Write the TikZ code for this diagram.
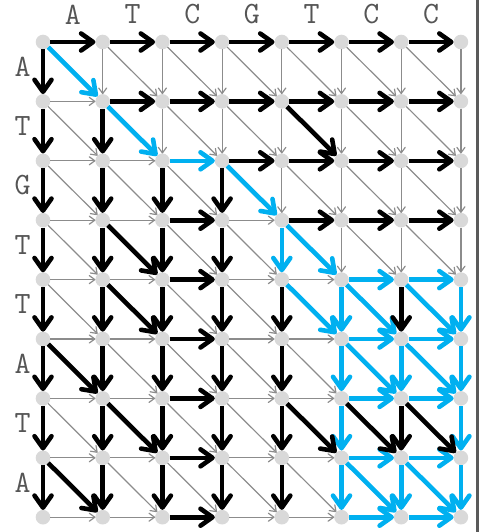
\documentclass[tikz,border=0pt]{standalone}
\usepackage{fontspec}
\usetikzlibrary{arrows.meta}
\definecolor{nodegray}{HTML}{D9D9D9}
\definecolor{edgegray}{HTML}{8C8C8C}
\definecolor{pathblue}{HTML}{00B0F0}
\definecolor{lettergray}{HTML}{555555}
\definecolor{framegray}{HTML}{5A5A5A}
\tikzset{
  gridnode/.style={circle, fill=nodegray, minimum size=14.6pt, inner sep=0pt, outer sep=0pt},
  thinedge/.style={draw=edgegray, line width=1.2pt, -{Straight Barb[round,length=5.5pt,width=8pt]}},
  blackedge/.style={draw=black, line width=4.6pt, -{Straight Barb[round,length=12pt,width=17pt]}},
  blueedge/.style={draw=pathblue, line width=4.6pt, -{Straight Barb[round,length=12pt,width=17pt]}},
  seqlabel/.style={font=\ttfamily\fontsize{31}{31}\selectfont, text=lettergray, inner sep=0pt},
}
\newcommand\markedges[2]{\foreach \e in {#2}{\expandafter\xdef\csname EdgeStyle\e\endcsname{#1}}}
\markedges{blackedge}{H-0-0,H-0-1,H-0-2,H-0-3,H-0-4,H-0-5,H-0-6,
  H-1-1,H-1-2,H-1-3,H-1-4,H-1-5,H-1-6,
  H-2-3,H-2-4,H-2-5,H-2-6,
  H-3-2,H-3-4,H-3-5,H-3-6,
  H-4-2,H-5-2,H-6-2,H-7-2,H-8-2,
  V-0-0,V-1-0,V-2-0,V-3-0,V-4-0,V-5-0,V-6-0,V-7-0,
  V-1-1,V-2-1,V-3-1,V-4-1,V-5-1,V-6-1,V-7-1,
  V-2-2,V-3-2,V-4-2,V-5-2,V-6-2,V-7-2,
  V-2-3,V-3-3,V-4-3,V-5-3,V-6-3,V-7-3,
  V-4-4,V-5-4,V-6-4,V-7-4,
  V-4-6,V-6-6,
  D-1-4,D-3-1,D-4-1,D-5-0,D-6-1,D-7-0,D-6-4,D-6-5,D-6-6}
\markedges{blueedge}{D-0-0,D-1-1,D-2-3,D-3-4,D-4-4,D-4-5,D-4-6,D-5-5,D-5-6,D-7-5,D-7-6,
  H-2-2,H-4-5,H-4-6,H-5-5,H-5-6,H-6-5,H-6-6,H-7-5,H-7-6,H-8-5,H-8-6,
  V-3-4,V-4-5,V-5-5,V-6-5,V-7-5,V-5-6,V-7-6,V-4-7,V-5-7,V-6-7,V-7-7}
\newcommand\drawedge[5]{%
  \ifcsname EdgeStyle#1-#2-#3\endcsname
    \edef\edgesty{\csname EdgeStyle#1-#2-#3\endcsname}%
  \else
    \def\edgesty{thinedge}%
  \fi
  \ifx\edgesty\curpass
    \edef\tmpdraw{\noexpand\draw[\edgesty] (n-#2-#3) -- (n-#4-#5);}\tmpdraw
  \fi}
\begin{document}
\begin{tikzpicture}[x=1pt,y=-1pt]
\useasboundingbox (0,0) rectangle (479,532);
\fill[framegray] (476,0) rectangle (479,532);
% grid nodes
\foreach \r in {0,...,8}{
  \foreach \c in {0,...,7}{
    \node[gridnode] (n-\r-\c) at ({43+59.7*\c},{42+59.4*\r}) {};
  }}
% sequence letters
\foreach \ch [count=\i from 0] in {A,T,C,G,T,C,C}{
  \node[seqlabel] (top-\i) at ({43+59.7*(\i+0.5)},14.5) {\ch};
}
\foreach \ch [count=\i from 0] in {A,T,G,T,T,A,T,A}{
  \node[seqlabel] (left-\i) at (22.5,{42+59.4*(\i+0.5)-5}) {\ch};
}
% edges
\foreach \pass in {thinedge,blueedge,blackedge}{
  \edef\curpass{\pass}
  \foreach \r in {0,...,8}{
    \foreach \c in {0,...,7}{
      \pgfmathtruncatemacro\rr{\r+1}
      \pgfmathtruncatemacro\cc{\c+1}
      \ifnum\c<7 \drawedge{H}{\r}{\c}{\r}{\cc}\fi
      \ifnum\r<8 \drawedge{V}{\r}{\c}{\rr}{\c}\fi
      \ifnum\c<7 \ifnum\r<8 \drawedge{D}{\r}{\c}{\rr}{\cc}\fi\fi
    }}}
\end{tikzpicture}
\end{document}
